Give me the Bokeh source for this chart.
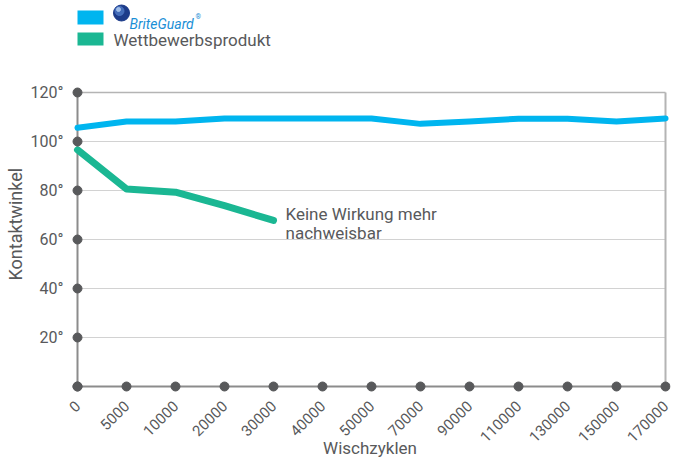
import math
from bokeh.plotting import figure
from bokeh.models import Range1d, FixedTicker, Title
from bokeh.embed import file_html
from bokeh.resources import INLINE
from bokeh.core.properties import value

# ---- data ----
cycles = ["0", "5000", "10000", "20000", "30000", "40000", "50000",
          "70000", "90000", "110000", "130000", "150000", "170000"]
briteguard = [105.6, 108.2, 108.2, 109.4, 109.4, 109.4, 109.4,
              107.2, 108.2, 109.3, 109.3, 108.2, 109.4]
competitor = [96.6, 80.6, 79.3, 73.8, 67.8]
y_ticks = [20, 40, 60, 80, 100, 120]
y_labels = ["20°", "40°", "60°", "80°", "100°", "120°"]
series_names = ["BriteGuard", "Wettbewerbsprodukt"]
note_lines = ["Keine Wirkung mehr", "nachweisbar"]
x_title = "Wischzyklen"
y_title = "Kontaktwinkel"

BLUE = "#00b5ef"
GREEN = "#1bb793"
TEXT = "#58595b"
DOT = "#58595b"
FONT = "Roboto"

PX_X = 49.0    # px per category
PX_Y = 2.45    # px per degree
X0, Y0 = 77, 386   # screen position of the data origin


def dx(px):
    return (px - X0) / PX_X


def dy(py):
    return (Y0 - py) / PX_Y


xs = list(range(len(cycles)))
xmax = xs[-1]
ymax = y_ticks[-1]

p = figure(width=678, height=461,
           x_range=Range1d(dx(69), dx(670)),
           y_range=Range1d(dy(394), dy(0)),
           output_backend="svg", toolbar_location=None,
           min_border_left=69, min_border_right=8,
           min_border_top=0, min_border_bottom=67)
p.outline_line_color = None
p.xgrid.visible = False
p.ygrid.visible = False
p.background_fill_color = "white"

# grid lines
p.segment(x0=[0] * 5, x1=[xmax] * 5, y0=y_ticks[:-1], y1=y_ticks[:-1],
          line_color="#d2d2d2", line_width=1)
p.segment(x0=[0], x1=[xmax], y0=[ymax], y1=[ymax], line_color="#b4b4b4", line_width=1.5)
# frame lines
p.segment(x0=[xmax], x1=[xmax], y0=[0], y1=[ymax], line_color="#b4b4b4", line_width=2)
p.segment(x0=[0, 0], x1=[0, xmax], y0=[0, 0], y1=[ymax, 0], line_color="#8c8c8c", line_width=2)

# series
p.line(xs, briteguard, line_color=BLUE, line_width=6, line_join="round", line_cap="round")
p.line(xs[:len(competitor)], competitor, line_color=GREEN, line_width=7,
       line_join="round", line_cap="round")

# axis dots
p.scatter([0] * (len(y_ticks) + 1), [0] + y_ticks, size=9, color=DOT)
p.scatter(xs, [0] * len(xs), size=9, color=DOT)

# annotation
p.text(x=[dx(285), dx(285)], y=[dy(213), dy(232)], text=note_lines,
       text_font=value(FONT), text_font_size="17px", text_color=TEXT,
       text_baseline="alphabetic", text_align="left")

# legend swatches
p.quad(left=[dx(77)], right=[dx(103)], top=[dy(10)], bottom=[dy(24)],
       color=BLUE, line_color=None)
p.quad(left=[dx(77)], right=[dx(103)], top=[dy(32)], bottom=[dy(45)],
       color=GREEN, line_color=None)
# BriteGuard logo-ish
p.scatter([dx(121)], [dy(12.5)], size=16, color="#1d3c8a")
p.scatter([dx(119)], [dy(10.5)], size=9, color="#4d78c4", alpha=0.8)
p.scatter([dx(118)], [dy(9)], size=4, color="#a9c4ec", alpha=0.9)
p.text(x=[dx(129)], y=[dy(23)], text=[series_names[0]],
       text_font=value(FONT), text_font_style="italic", text_font_size="14px",
       text_color="#1b8fd6", text_baseline="alphabetic")
p.text(x=[dx(195)], y=[dy(16)], text=["®"],
       text_font=value(FONT), text_font_size="7px", text_color="#1b8fd6",
       text_baseline="alphabetic")
p.text(x=[dx(113)], y=[dy(39)], text=[series_names[1]],
       text_font=value(FONT), text_font_size="17px", text_color=TEXT,
       text_baseline="middle")

# axes
p.xaxis.ticker = FixedTicker(ticks=xs)
p.xaxis.major_label_overrides = {i: c for i, c in enumerate(cycles)}
p.xaxis.major_label_orientation = math.pi / 4
p.xaxis.major_label_standoff = 3
p.yaxis.ticker = FixedTicker(ticks=y_ticks)
p.yaxis.major_label_overrides = {t: l for t, l in zip(y_ticks, y_labels)}
p.yaxis.major_label_standoff = 0
for ax in (p.xaxis, p.yaxis):
    ax.axis_line_color = None
    ax.major_tick_line_color = None
    ax.minor_tick_line_color = None
    ax.major_label_text_font = FONT
    ax.major_label_text_color = TEXT
p.xaxis.major_label_text_font_size = "15px"
p.yaxis.major_label_text_font_size = "16px"

p.xaxis.axis_label = x_title
p.xaxis.axis_label_text_font = FONT
p.xaxis.axis_label_text_font_size = "17px"
p.xaxis.axis_label_text_font_style = "normal"
p.xaxis.axis_label_text_color = TEXT
p.xaxis.axis_label_standoff = -12

p.add_layout(Title(text=y_title, align="left", offset=394 - 280,
                   text_font=FONT, text_font_size="18px", text_font_style="normal",
                   text_color=TEXT, standoff=4), "left")

open("out.html", "w").write(file_html(p, INLINE))
